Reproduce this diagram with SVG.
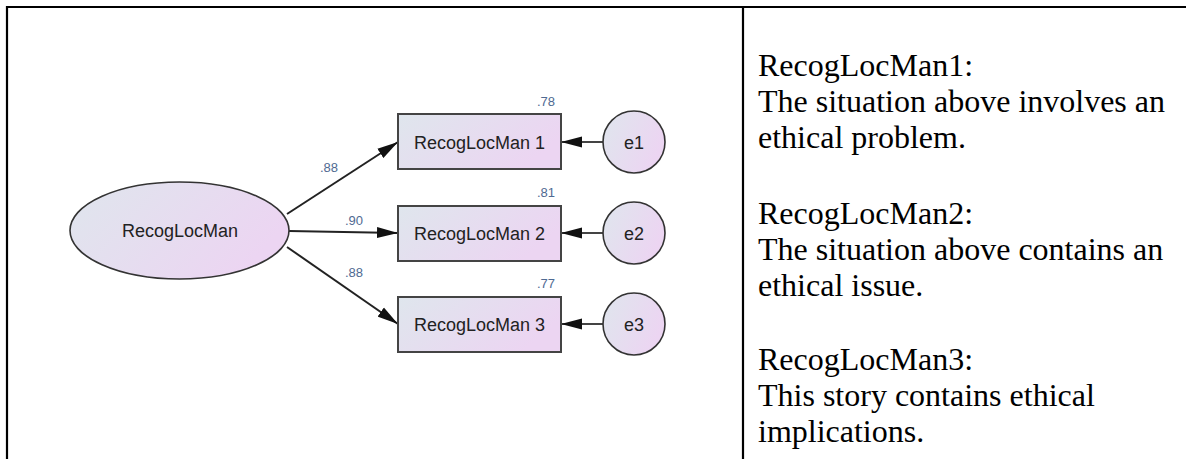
<svg xmlns="http://www.w3.org/2000/svg" width="1186" height="459" viewBox="0 0 1186 459">
<defs>
<linearGradient id="g" x1="0" y1="0" x2="1" y2="0.4">
<stop offset="0" stop-color="#dfe6ed"/>
<stop offset="1" stop-color="#ecd5f2"/>
</linearGradient>
<marker id="ah" markerUnits="userSpaceOnUse" markerWidth="22" markerHeight="12" refX="21" refY="6" orient="auto">
<path d="M0,0.5 L21,6 L0,11.5 z" fill="#111"/>
</marker>
<style>
.frame{stroke:#000;stroke-width:2.2;fill:none}
.node{fill:url(#g);stroke:#333;stroke-width:1.6}
.box{fill:url(#g);stroke:#444;stroke-width:2}
.lbl{font-family:"Liberation Sans",Arial,sans-serif;font-size:18px;fill:#222;text-anchor:middle}
.num{font-family:"Liberation Sans",Arial,sans-serif;font-size:13px;fill:#4f6a92}
.conn{stroke:#222;stroke-width:2;fill:none;marker-end:url(#ah)}
.err{stroke:#444;stroke-width:2;fill:none;marker-end:url(#ah)}
.desc{font-family:"Liberation Serif","Times New Roman",serif;font-size:32px;fill:#000}
</style>
</defs>
<rect width="1186" height="459" fill="#fff"/>
<g id="frame">
<line class="frame" x1="7" y1="7" x2="1186" y2="7"/>
<line class="frame" x1="7" y1="6" x2="7" y2="459"/>
<line class="frame" x1="743" y1="6" x2="743" y2="459"/>
</g>
<g id="connectors">
<line class="conn" x1="287" y1="214" x2="398" y2="142"/>
<line class="conn" x1="289" y1="231" x2="398" y2="233"/>
<line class="conn" x1="287" y1="247" x2="398" y2="324"/>
<line class="err" x1="603" y1="142" x2="561" y2="142"/>
<line class="err" x1="603" y1="233" x2="561" y2="233"/>
<line class="err" x1="603" y1="324" x2="561" y2="324"/>
<text class="num" x="320" y="172">.88</text>
<text class="num" x="345" y="225">.90</text>
<text class="num" x="345" y="277">.88</text>
</g>
<g id="RecogLocMan">
<ellipse class="node" cx="179.5" cy="230.5" rx="109.5" ry="48.5"/>
<text class="lbl" x="180" y="237">RecogLocMan</text>
</g>
<g id="RecogLocMan1">
<rect class="box" x="398" y="114" width="163" height="55"/>
<text class="lbl" x="479.5" y="148.5">RecogLocMan 1</text>
<text class="num" x="555" y="106" text-anchor="end">.78</text>
</g>
<g id="RecogLocMan2">
<rect class="box" x="398" y="206" width="163" height="55"/>
<text class="lbl" x="479.5" y="240">RecogLocMan 2</text>
<text class="num" x="555" y="197" text-anchor="end">.81</text>
</g>
<g id="RecogLocMan3">
<rect class="box" x="398" y="297" width="163" height="55"/>
<text class="lbl" x="479.5" y="330.5">RecogLocMan 3</text>
<text class="num" x="555" y="288" text-anchor="end">.77</text>
</g>
<g id="e1">
<circle class="node" cx="634" cy="142" r="31"/>
<text class="lbl" x="634" y="148.5">e1</text>
</g>
<g id="e2">
<circle class="node" cx="634" cy="233" r="31"/>
<text class="lbl" x="634" y="239.5">e2</text>
</g>
<g id="e3">
<circle class="node" cx="634" cy="324" r="31"/>
<text class="lbl" x="634" y="330.5">e3</text>
</g>
<g id="descriptions">
<text class="desc" x="758" y="76">RecogLocMan1:</text>
<text class="desc" x="758" y="112">The situation above involves an</text>
<text class="desc" x="758" y="148">ethical problem.</text>
<text class="desc" x="758" y="224">RecogLocMan2:</text>
<text class="desc" x="758" y="260">The situation above contains an</text>
<text class="desc" x="758" y="296">ethical issue.</text>
<text class="desc" x="758" y="370">RecogLocMan3:</text>
<text class="desc" x="758" y="406">This story contains ethical</text>
<text class="desc" x="758" y="442">implications.</text>
</g>
</svg>
